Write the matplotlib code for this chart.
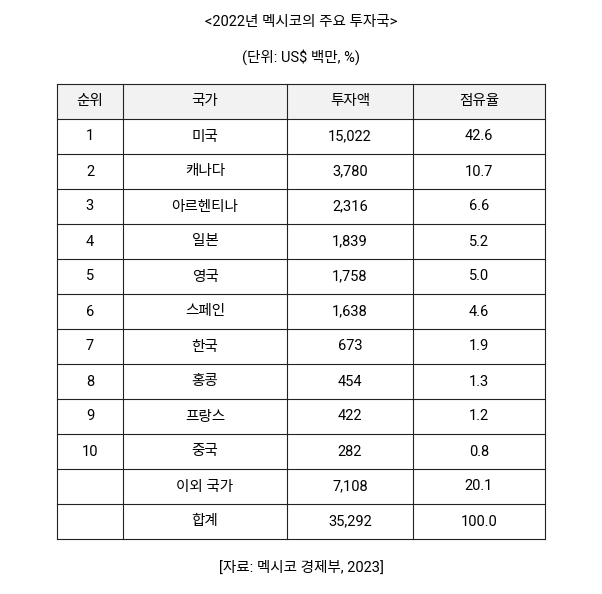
import matplotlib.pyplot as plt
from matplotlib.patches import Rectangle

plt.rcParams["font.family"] = ["Roboto", "Noto Sans CJK JP", "Noto Sans CJK KR",
                               "Noto Sans CJK SC", "DejaVu Sans"]

title = "<2022년 멕시코의 주요 투자국>"
unit = "(단위: US$ 백만, %)"
source = "[자료: 멕시코 경제부, 2023]"
headers = ["순위", "국가", "투자액", "점유율"]
ranks = ["1", "2", "3", "4", "5", "6", "7", "8", "9", "10", "", ""]
countries = ["미국", "캐나다", "아르헨티나", "일본", "영국", "스페인", "한국", "홍콩",
             "프랑스", "중국", "이외 국가", "합계"]
amounts = ["15,022", "3,780", "2,316", "1,839", "1,758", "1,638", "673", "454",
           "422", "282", "7,108", "35,292"]
shares = ["42.6", "10.7", "6.6", "5.2", "5.0", "4.6", "1.9", "1.3", "1.2", "0.8",
          "20.1", "100.0"]

fig = plt.figure(figsize=(6.02, 5.94), dpi=100)
ax = fig.add_axes([0, 0, 1, 1])
ax.set_xlim(0, 602)
ax.set_ylim(594, 0)
ax.axis("off")

col_x = [57, 123, 287, 413, 545]
top, row_h = 84, 35
n_rows = len(countries) + 1
bottom = top + n_rows * row_h

ax.add_patch(Rectangle((col_x[0], top), col_x[-1] - col_x[0], row_h,
                       facecolor="#f2f2f2", edgecolor="none"))
for i in range(n_rows + 1):
    ax.plot([col_x[0], col_x[-1]], [top + i * row_h] * 2, color="#222", lw=0.8)
for x in col_x:
    ax.plot([x, x], [top, bottom], color="#222", lw=0.8)

fs = 10.5
ax.text(301, 22, title, ha="center", va="center", fontsize=fs)
ax.text(301, 57, unit, ha="center", va="center", fontsize=fs)
ax.text(301, 568, source, ha="center", va="center", fontsize=fs)

centers = [(col_x[j] + col_x[j + 1]) / 2 for j in range(4)]
rows = [headers] + [list(r) for r in zip(ranks, countries, amounts, shares)]
for i, row in enumerate(rows):
    y = top + i * row_h + row_h / 2
    for j, val in enumerate(row):
        ax.text(centers[j], y, val, ha="center", va="center", fontsize=fs)

fig.savefig("out.png", dpi=100)
